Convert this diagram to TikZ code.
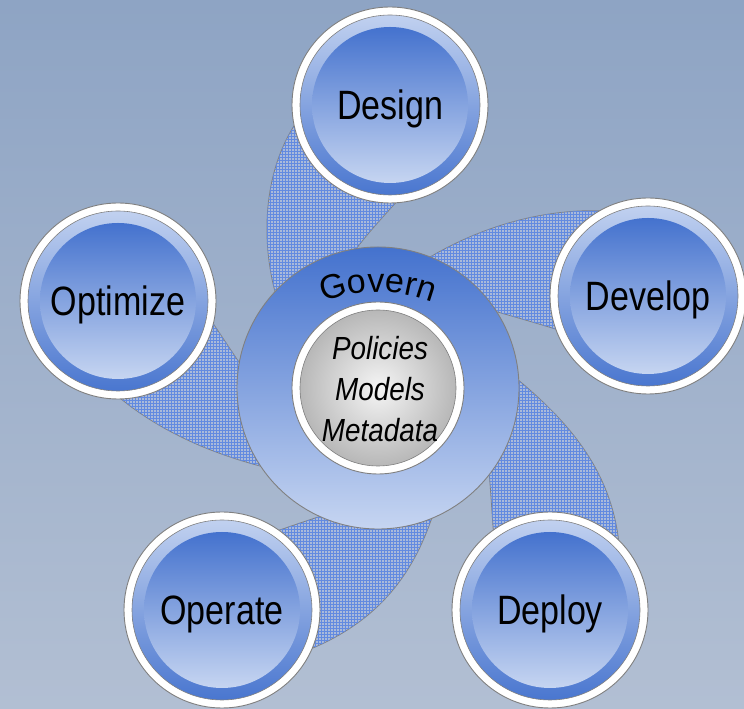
\documentclass[tikz,border=0pt]{standalone}
\usepackage{fontspec}
\setmainfont{Liberation Sans}
\newfontfamily\narrowfont[FakeStretch=0.83]{Liberation Sans}
\newfontfamily\metafont[FakeStretch=0.87]{Liberation Sans}
\usetikzlibrary{patterns,decorations.text,calc}
\definecolor{bgtop}{RGB}{142,164,196}
\definecolor{bgbot}{RGB}{178,191,211}
\definecolor{dblue}{RGB}{68,114,206}
\definecolor{lblue}{RGB}{198,213,241}
\definecolor{edgegray}{RGB}{128,128,128}
\definecolor{bandbase}{RGB}{170,186,218}
\definecolor{bandline}{RGB}{98,138,224}
\tikzset{
  sat/.style={circle, minimum size=196pt, inner sep=0pt, fill=white, draw=edgegray, line width=0.9pt,
    path picture={
      \shade[top color=lblue, bottom color=dblue] (path picture bounding box.center) circle (90pt);
      \draw[edgegray, line width=0.6pt] (path picture bounding box.center) circle (90pt);
      \shade[top color=dblue, bottom color=lblue] (path picture bounding box.center) circle (78pt);
    },
    font=\narrowfont\fontsize{41}{41}\selectfont, text height=29.4pt, text depth=0pt},
  band/.style={fill=bandbase, draw=edgegray, line width=0.8pt,
    postaction={pattern=grid, pattern color=bandline}},
}
\begin{document}
\begin{tikzpicture}[x=1pt,y=1pt]
\useasboundingbox (0,0) rectangle (744,709);
\shade[top color=bgtop, bottom color=bgbot] (0,0) rectangle (744,709);
% bands
\path[band] (290,379) .. controls (262,429) and (250,539) .. (310,604) -- (410,522) .. controls (385,494) and (360,469) .. (340,437) -- cycle;
\path[band] (400,432) .. controls (470,484) and (560,509) .. (640,494) -- (600,366) .. controls (560,379) and (500,397) .. (460,407) -- cycle;
\path[band] (480,359) .. controls (560,299) and (625,239) .. (620,129) -- (496,144) .. controls (492,189) and (490,239) .. (485,279) -- cycle;
\path[band] (440,219) .. controls (420,139) and (380,84) .. (295,54) -- (250,169) .. controls (290,182) and (320,194) .. (360,204) -- cycle;
\path[band] (300,234) .. controls (220,249) and (150,279) .. (100,329) -- (190,419) .. controls (215,384) and (240,344) .. (265,309) -- cycle;
% center
\node[circle, minimum size=282pt, inner sep=0pt, draw=edgegray, line width=0.9pt, top color=dblue, bottom color=lblue] (govern) at (378,321) {};
\node[circle, minimum size=172pt, inner sep=0pt, fill=white, draw=edgegray, line width=0.9pt] (core) at (378,321) {};
\shade[inner color=white!96!black, outer color=white!72!black, draw=edgegray, line width=0.6pt] (core.center) circle (78);
\node[align=center, font=\metafont\itshape\fontsize{32}{41}\selectfont] (meta) at (380,320) {Policies\\Models\\Metadata};
\coordinate (arcc) at ($(govern.center)+(0,-54)$);
\path[decorate, decoration={text along path, text={|\fontsize{34}{34}\selectfont|Govern}, text align=center}]
  ($(arcc)+(130:150)$) arc[start angle=130, end angle=50, radius=150];
% satellites
\node[sat] (design) at (390,604) {Design};
\node[sat] (develop) at (648,413) {Develop};
\node[sat] (deploy) at (550,99) {Deploy};
\node[sat] (operate) at (222,99) {Operate};
\node[sat] (optimize) at (118,408) {Optimize};
\end{tikzpicture}
\end{document}
